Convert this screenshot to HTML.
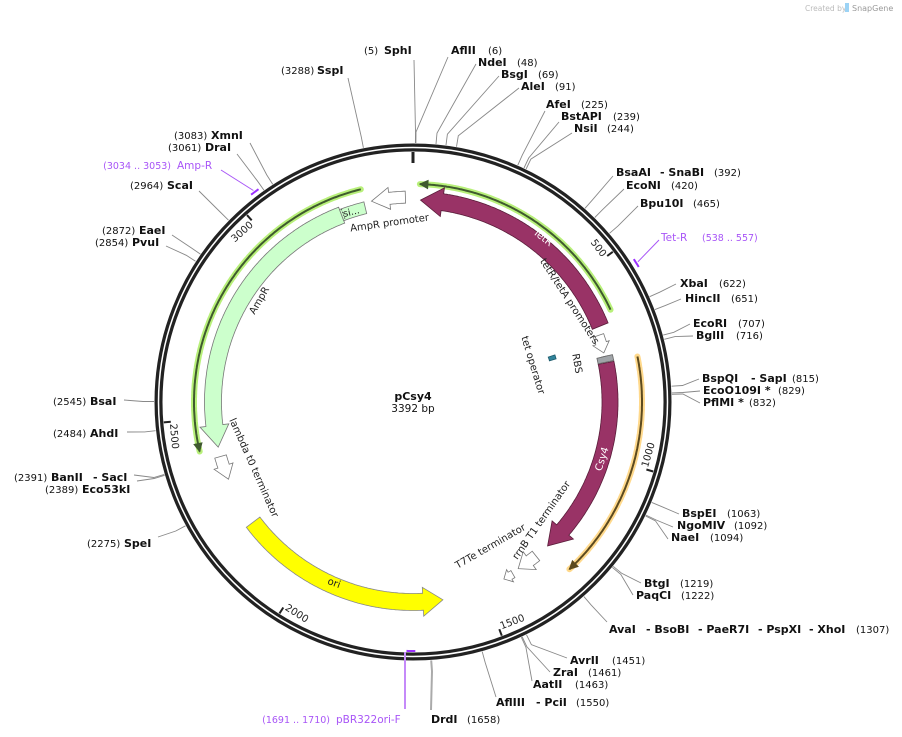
<!DOCTYPE html>
<html><head><meta charset="utf-8"><style>
html,body{margin:0;padding:0;background:#fff;}
svg{display:block;font-family:"DejaVu Sans","Liberation Sans",sans-serif;}
</style></head><body>
<svg id="map" width="902" height="737" viewBox="0 0 902 737" xmlns="http://www.w3.org/2000/svg">
<text x="805" y="11" font-size="7.5" fill="#bbb">Created by</text>
<rect x="845" y="3" width="4" height="9" fill="#9cd3f5"/>
<text x="852" y="11" font-size="8" fill="#999">SnapGene</text>
<g id="layer"></g>
</svg>
<script>
const TOTAL = 3392;
const cx = 413, cy = 402;
const featNames = ["TetR","Csy4","RBS","tetR-tetA-promoters","tet-operator","AmpR","AmpR-signal","AmpR-promoter","lambda-t0-terminator","ori","rrnB-T1-terminator","T7Te-terminator"];
const featStart = [20, 740, 722, 662, 675, 2421, 3195, 3282, 2330, 1615, 1332, 1412];
const featEnd   = [640, 1290, 738, 712, 690, 3195, 3262, 3372, 2395, 2196, 1392, 1440];
const featDir   = ["ccw","cw","none","cw","none","ccw","none","ccw","ccw","ccw","cw","cw"];
const hlStart = [17, 740, 2421];
const hlEnd = [612, 1290, 3262];
const hlDir = ["ccw","cw","ccw"];
const tickBp = [0,500,1000,1500,2000,2500,3000];
const tickLabels = ["","500","1000","1500","2000","2500","3000"];
const enzBp = [5,6,48,69,91,225,239,244,392,420,465,622,651,707,716,815,829,832,1063,1092,1094,1219,1222,1307,1451,1461,1463,1550,1658,3288,3083,3061,2964,2872,2854,2545,2484,2391,2389,2275];
const enzEnd = [[414,60],[448,57],[476,64],[499,76],[519,88],[545,111],[559,122],[572,133],[613,176],[624,189],[638,206],[676,284],[681,299],[690,324],[693,336],[699,379],[700,391],[700,403],[679,514],[673,527],[668,539],[641,583],[633,595],[607,622],[567,658],[550,672],[532,681],[496,697],[431,710],[348,78],[250,143],[237,154],[199,191],[172,235],[166,246],[124,400],[127,432],[134,475],[137,481],[158,537]];
const enzLabel = [
 [[364,"(5)",0],[384,"SphI",1]],[[451,"AflII",1],[488,"(6)",0]],[[478,"NdeI",1],[517,"(48)",0]],[[501,"BsgI",1],[538,"(69)",0]],[[521,"AleI",1],[555,"(91)",0]],
 [[546,"AfeI",1],[581,"(225)",0]],[[561,"BstAPI",1],[613,"(239)",0]],[[574,"NsiI",1],[607,"(244)",0]],[[616,"BsaAI",1],[660,"- SnaBI",1],[714,"(392)",0]],
 [[626,"EcoNI",1],[671,"(420)",0]],[[640,"Bpu10I",1],[693,"(465)",0]],[[680,"XbaI",1],[719,"(622)",0]],[[685,"HincII",1],[731,"(651)",0]],
 [[693,"EcoRI",1],[738,"(707)",0]],[[696,"BglII",1],[736,"(716)",0]],[[702,"BspQI",1],[751,"- SapI",1],[792,"(815)",0]],[[703,"EcoO109I *",1],[778,"(829)",0]],
 [[703,"PflMI *",1],[749,"(832)",0]],[[682,"BspEI",1],[727,"(1063)",0]],[[677,"NgoMIV",1],[734,"(1092)",0]],[[671,"NaeI",1],[710,"(1094)",0]],
 [[644,"BtgI",1],[680,"(1219)",0]],[[636,"PaqCI",1],[681,"(1222)",0]],
 [[609,"AvaI",1],[646,"- BsoBI",1],[698,"- PaeR7I",1],[758,"- PspXI",1],[809,"- XhoI",1],[856,"(1307)",0]],
 [[570,"AvrII",1],[612,"(1451)",0]],[[553,"ZraI",1],[588,"(1461)",0]],[[533,"AatII",1],[575,"(1463)",0]],[[496,"AflIII",1],[536,"- PciI",1],[576,"(1550)",0]],
 [[431,"DrdI",1],[467,"(1658)",0]],
 [[281,"(3288)",0],[317,"SspI",1]],[[174,"(3083)",0],[211,"XmnI",1]],[[168,"(3061)",0],[205,"DraI",1]],[[130,"(2964)",0],[167,"ScaI",1]],
 [[102,"(2872)",0],[139,"EaeI",1]],[[95,"(2854)",0],[132,"PvuI",1]],[[53,"(2545)",0],[90,"BsaI",1]],[[53,"(2484)",0],[90,"AhdI",1]],
 [[14,"(2391)",0],[51,"BanII",1],[93,"- SacI",1]],[[45,"(2389)",0],[82,"Eco53kI",1]],[[87,"(2275)",0],[124,"SpeI",1]]];
const enzY = [54,54,66,78,90,108,120,132,176,189,207,287,302,327,339,382,394,406,517,529,541,587,599,633,664,676,688,706,723,74,139,151,189,234,246,405,437,481,493,547];
const primerNames = ["Tet-R","Amp-R","pBR322ori-F"];
const primerStart = [538,3034,1691];
const primerEnd = [557,3053,1710];

const NS="http://www.w3.org/2000/svg";
const layer=document.getElementById('layer');
function ang(bp){return bp/TOTAL*2*Math.PI;}
function pt(r,bp){const a=ang(bp);return [cx+r*Math.sin(a),cy-r*Math.cos(a)];}
function mk(tag,attrs,parent){const e=document.createElementNS(NS,tag);for(const k in attrs)e.setAttribute(k,attrs[k]);(parent||layer).appendChild(e);return e;}
function arcPts(r,b1,b2){const out=[];const n=Math.max(2,Math.ceil(Math.abs(b2-b1)/4));for(let i=0;i<=n;i++){out.push(pt(r,b1+(b2-b1)*i/n));}return out;}
function bpPerPx(r){return TOTAL/(2*Math.PI*r);}
function featPathD(s,e,dir,r,w,head,flare){
  const ro=r+w/2, ri=r-w/2; let pts=[];
  const hb=head*bpPerPx(r);
  if(dir==="cw"){
    const hs=Math.max(s,e-hb);
    pts=pts.concat(arcPts(ro,s,hs)); pts.push(pt(ro+flare,hs)); pts.push(pt(r,e)); pts.push(pt(ri-flare,hs));
    pts=pts.concat(arcPts(ri,hs,s));
  } else if(dir==="ccw"){
    const hs=Math.min(e,s+hb);
    pts=pts.concat(arcPts(ro,e,hs)); pts.push(pt(ro+flare,hs)); pts.push(pt(r,s)); pts.push(pt(ri-flare,hs));
    pts=pts.concat(arcPts(ri,hs,e));
  } else {
    pts=pts.concat(arcPts(ro,s,e)).concat(arcPts(ri,e,s));
  }
  return "M"+pts.map(p=>p[0].toFixed(1)+","+p[1].toFixed(1)).join("L")+"Z";
}
function lineD(pts){return "M"+pts.map(p=>p[0].toFixed(1)+","+p[1].toFixed(1)).join("L");}

const hlR=[218,229,219], hlGlow=["#b8f07a","#ffd98c","#b8f07a"], hlCol=["#3f5a2e","#5c4a1f","#3f5a2e"];
for(let i=0;i<hlStart.length;i++){
  const d=lineD(arcPts(hlR[i],hlStart[i],hlEnd[i]));
  const g=mk('path',{d:d,fill:'none',stroke:hlGlow[i],'stroke-width':6,'stroke-linecap':'round'});
  
  
  const l=mk('path',{d:d,fill:'none',stroke:hlCol[i],'stroke-width':2});
  
  
  const tipBp = hlDir[i]==="cw"?hlEnd[i]:hlStart[i];
  const backBp = hlDir[i]==="cw"?tipBp-8*bpPerPx(hlR[i]):tipBp+8*bpPerPx(hlR[i]);
  const ah=mk('path',{d:lineD([pt(hlR[i]+4,backBp),pt(hlR[i],tipBp),pt(hlR[i]-4,backBp)])+"Z",fill:hlCol[i],stroke:hlCol[i],'stroke-width':1});
  
  
}

const ring=mk('circle',{cx:cx,cy:cy,r:254.5,fill:'none',stroke:'#222','stroke-width':8});


const ringGap=mk('circle',{cx:cx,cy:cy,r:254.5,fill:'none',stroke:'#fff','stroke-width':1.5});



for(let i=0;i<tickBp.length;i++){
  const b=tickBp[i];
  const tk=mk('path',{d:lineD([pt(250,b),pt(b===0?239:243,b)]),stroke:'#222','stroke-width':b===0?3:2});
  
  
  if(tickLabels[i]){
    const deg=b/TOTAL*360;
    let rot, anchor, base, off;
    if(deg<=90){rot=deg;anchor='end';base='hanging';off=-2;}
    else if(deg<270){rot=deg-180;anchor='start';base='auto';off=-2;}
    else {rot=deg-360;anchor='end';base='hanging';off=-2;}
    const bOff=b+off*bpPerPx(244);
    const p=pt(244,bOff);
    const t=mk('text',{x:p[0].toFixed(1),y:p[1].toFixed(1),'font-size':10,fill:'#222','text-anchor':anchor,'dominant-baseline':base,transform:`rotate(${rot.toFixed(1)} ${p[0].toFixed(1)} ${p[1].toFixed(1)})`});
    t.textContent=tickLabels[i];
    
    
  }
}

const fR=[202,197,197,197,146,200,200,205,200,200,197,199];
const fW=[17,16,6,11,7,17,12,12,12,17,12,8];
const fFill=["#993366","#993366","#a0a4a8","#fff","#31849b","#ccffcc","#ccffcc","#fff","#fff","#ffff00","#fff","#fff"];
const fStroke=["#5a1d3a","#5a1d3a","#777","#777","#1d5a6b","#777","#777","#777","#777","#888","#777","#777"];
const fHead=[22,22,0,10,0,22,0,18,14,20,14,7];
const fFlare=[6,6,0,3,0,6,0,5,4,6,5,3];
for(let i=0;i<featNames.length;i++){
  const p=mk('path',{d:featPathD(featStart[i],featEnd[i],featDir[i],fR[i],fW[i],fHead[i],fFlare[i]),fill:fFill[i],stroke:fStroke[i],'stroke-width':0.8});
  
  
}
{
  const p=mk('path',{d:featPathD(722,738,"none",197,16,0,0),fill:'#a0a4a8',stroke:'#666','stroke-width':0.8});
  
  
}
{
  const d=mk('path',{d:lineD([pt(206,3200),pt(194,3200)]),stroke:'#555','stroke-width':1,'stroke-dasharray':'1.5,1.5'});
  
  
}

const prR=[263,263,249];
for(let i=0;i<primerNames.length;i++){
  const m=mk('path',{d:lineD(arcPts(prR[i],primerStart[i],primerEnd[i])),stroke:'#9b30ff','stroke-width':2,fill:'none'});
  
  
}
function plainLine(pts,col,w,name){const l=mk('path',{d:lineD(pts),stroke:col,'stroke-width':w,fill:'none'});return l;}
plainLine([pt(265,547),[659,240]],'#a855f7',1,'primer-line-tet-r');
plainLine([pt(265,3043),[221,170]],'#a855f7',1,'primer-line-amp-r');
plainLine([[405,652],[405,709]],'#c58af9',2,'primer-line-pbr322ori-f');
function ptxt(x,y,s,name,fs,anchor){const t=mk('text',{x:x,y:y,'font-size':fs,fill:'#a855f7','text-anchor':anchor||'start'});t.textContent=s;}
ptxt(661,241,"Tet-R","primer-label-tet-r",10.5);ptxt(702,241,"(538 .. 557)","primer-range-tet-r",9.5);
ptxt(171,169,"(3034 .. 3053)","primer-range-amp-r",9.5,'end');ptxt(177,169,"Amp-R","primer-label-amp-r",10.5);
ptxt(330,723,"(1691 .. 1710)","primer-range-pbr322ori-f",9.5,'end');ptxt(336,723,"pBR322ori-F","primer-label-pbr322ori-f",10.5);

for(let i=0;i<enzBp.length;i++){
  const b=enzBp[i];
  plainLine([pt(259,b),pt(270,b),enzEnd[i]],b===1658?'#aaa':'#888',b===1658?2:0.9,'enzyme-line-'+b);
  const t=mk('text',{y:enzY[i],fill:'#111'});
  
  
  for(const part of enzLabel[i]){
    const s=mk('tspan',{x:part[0],'font-size':part[2]?11:10,'font-weight':part[2]?'bold':'normal'},t);
    s.textContent=part[1];
  }
}

function flab(x,y,rot,s,name,opt){const o=Object.assign({'font-size':10,fill:'#222'},opt||{});const t=mk('text',Object.assign({x:x,y:y,'text-anchor':'middle',transform:`rotate(${rot} ${x} ${y})`},o));t.textContent=s;}
flab(541,240,38,"TetR","label-tetr",{fill:'#fff'});
flab(605,460,-72,"Csy4","label-csy4",{fill:'#fff'});
flab(262,302,-60,"AmpR","label-ampr");
flab(333,586,20,"ori","label-ori");
flab(352,215,-14,"si...","label-signal",{'font-size':9.5});
flab(390,226,-8,"AmpR promoter","label-ampr-promoter");
flab(567,303,57,"tetR/tetA promoters","label-tetr-teta-promoters");
flab(574,364,80,"RBS","label-rbs");
flab(530,366,73,"tet operator","label-tet-operator");
flab(251,469,66,"lambda t0 terminator","label-lambda-t0-terminator");
flab(544,522,-55,"rrnB T1 terminator","label-rrnb-t1-terminator");
flab(492,549,-30,"T7Te terminator","label-t7te-terminator");

{const t=mk('text',{x:413,y:400,'text-anchor':'middle','font-size':11,'font-weight':'bold',fill:'#111'});t.textContent="pCsy4";
 const t2=mk('text',{x:413,y:412,'text-anchor':'middle','font-size':10.5,fill:'#111'});t2.textContent="3392 bp";}
</script>
</body></html>
